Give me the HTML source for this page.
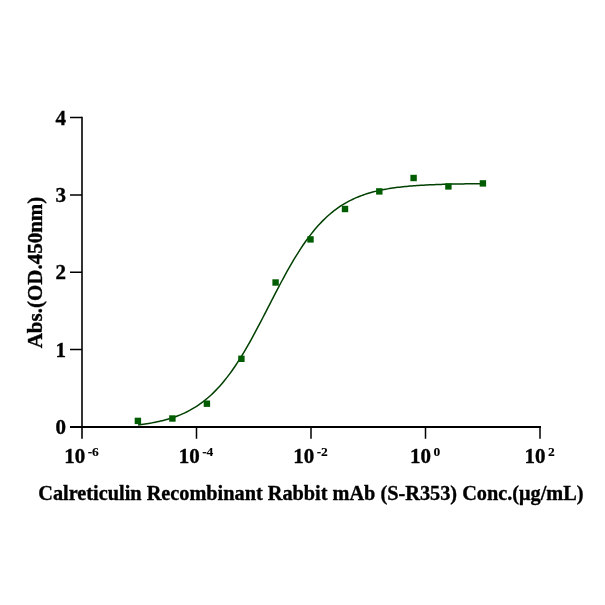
<!DOCTYPE html>
<html><head><meta charset="utf-8"><style>
html,body{margin:0;padding:0;background:#fff;}
svg{display:block;will-change:transform;}
text{font-family:"Liberation Serif",serif;font-weight:bold;fill:#000;stroke:#000;stroke-width:0.35px;}
</style></head><body>
<svg width="605" height="605" viewBox="0 0 605 605">
<rect width="605" height="605" fill="#fff"/>
<g stroke="#000" fill="none">
<path d="M82,116.75 V438.8" stroke-width="1.6"/>
<path d="M70,427 H541" stroke-width="2"/>
<path d="M70,117.5 H82 M70,194.9 H82 M70,272.2 H82 M70,349.6 H82" stroke-width="1.5"/>
<path d="M196.5,427 V438.8 M311,427 V438.8 M425.5,427 V438.8 M540,427 V438.8" stroke-width="1.5"/>
</g>
<path d="M138.07,424.91 L139.80,424.70 L141.53,424.47 L143.27,424.24 L145.00,423.99 L146.73,423.73 L148.46,423.46 L150.20,423.17 L151.93,422.87 L153.66,422.55 L155.39,422.21 L157.12,421.85 L158.86,421.47 L160.59,421.08 L162.32,420.66 L164.05,420.22 L165.78,419.76 L167.52,419.28 L169.25,418.77 L170.98,418.23 L172.71,417.66 L174.44,417.07 L176.18,416.44 L177.91,415.79 L179.64,415.10 L181.37,414.37 L183.10,413.61 L184.84,412.81 L186.57,411.98 L188.30,411.10 L190.03,410.18 L191.76,409.21 L193.50,408.20 L195.23,407.15 L196.96,406.04 L198.69,404.88 L200.42,403.67 L202.16,402.40 L203.89,401.08 L205.62,399.70 L207.35,398.27 L209.08,396.77 L210.82,395.21 L212.55,393.58 L214.28,391.89 L216.01,390.14 L217.75,388.31 L219.48,386.42 L221.21,384.46 L222.94,382.42 L224.67,380.32 L226.41,378.15 L228.14,375.90 L229.87,373.58 L231.60,371.19 L233.33,368.73 L235.07,366.20 L236.80,363.60 L238.53,360.93 L240.26,358.20 L241.99,355.40 L243.73,352.53 L245.46,349.61 L247.19,346.63 L248.92,343.59 L250.65,340.51 L252.39,337.37 L254.12,334.19 L255.85,330.97 L257.58,327.71 L259.31,324.43 L261.05,321.11 L262.78,317.77 L264.51,314.42 L266.24,311.05 L267.97,307.67 L269.71,304.29 L271.44,300.92 L273.17,297.55 L274.90,294.19 L276.64,290.85 L278.37,287.54 L280.10,284.25 L281.83,281.00 L283.56,277.78 L285.30,274.60 L287.03,271.46 L288.76,268.38 L290.49,265.34 L292.22,262.36 L293.96,259.44 L295.69,256.58 L297.42,253.78 L299.15,251.05 L300.88,248.39 L302.62,245.79 L304.35,243.26 L306.08,240.80 L307.81,238.41 L309.54,236.10 L311.28,233.85 L313.01,231.68 L314.74,229.58 L316.47,227.55 L318.20,225.59 L319.94,223.70 L321.67,221.87 L323.40,220.12 L325.13,218.43 L326.86,216.81 L328.60,215.25 L330.33,213.75 L332.06,212.32 L333.79,210.94 L335.53,209.62 L337.26,208.36 L338.99,207.15 L340.72,205.99 L342.45,204.89 L344.19,203.83 L345.92,202.82 L347.65,201.86 L349.38,200.94 L351.11,200.06 L352.85,199.22 L354.58,198.43 L356.31,197.67 L358.04,196.94 L359.77,196.26 L361.51,195.60 L363.24,194.98 L364.97,194.38 L366.70,193.82 L368.43,193.28 L370.17,192.77 L371.90,192.29 L373.63,191.83 L375.36,191.39 L377.09,190.97 L378.83,190.58 L380.56,190.20 L382.29,189.85 L384.02,189.51 L385.75,189.19 L387.49,188.88 L389.22,188.60 L390.95,188.32 L392.68,188.06 L394.42,187.82 L396.15,187.58 L397.88,187.36 L399.61,187.15 L401.34,186.95 L403.08,186.76 L404.81,186.58 L406.54,186.42 L408.27,186.25 L410.00,186.10 L411.74,185.96 L413.47,185.82 L415.20,185.69 L416.93,185.57 L418.66,185.45 L420.40,185.34 L422.13,185.24 L423.86,185.14 L425.59,185.05 L427.32,184.96 L429.06,184.87 L430.79,184.80 L432.52,184.72 L434.25,184.65 L435.98,184.58 L437.72,184.52 L439.45,184.46 L441.18,184.40 L442.91,184.35 L444.64,184.29 L446.38,184.25 L448.11,184.20 L449.84,184.16 L451.57,184.11 L453.31,184.08 L455.04,184.04 L456.77,184.00 L458.50,183.97 L460.23,183.94 L461.97,183.91 L463.70,183.88 L465.43,183.86 L467.16,183.83 L468.89,183.81 L470.63,183.78 L472.36,183.76 L474.09,183.74 L475.82,183.72 L477.55,183.70 L479.29,183.69 L481.02,183.67 L482.75,183.66" stroke="#004000" stroke-width="1.5" fill="none"/>
<g fill="#005c00"><rect x="134.70" y="417.70" width="6.4" height="6.4"/><rect x="169.20" y="415.30" width="6.4" height="6.4"/><rect x="203.70" y="400.50" width="6.4" height="6.4"/><rect x="238.20" y="355.60" width="6.4" height="6.4"/><rect x="272.40" y="279.30" width="6.4" height="6.4"/><rect x="307.30" y="236.20" width="6.4" height="6.4"/><rect x="341.80" y="205.80" width="6.4" height="6.4"/><rect x="376.10" y="188.20" width="6.4" height="6.4"/><rect x="410.40" y="174.80" width="6.4" height="6.4"/><rect x="445.20" y="183.20" width="6.4" height="6.4"/><rect x="479.70" y="180.20" width="6.4" height="6.4"/></g>
<g font-size="21"><text x="66" y="434.20" text-anchor="end">0</text><text x="66" y="356.80" text-anchor="end">1</text><text x="66" y="279.40" text-anchor="end">2</text><text x="66" y="202.00" text-anchor="end">3</text><text x="66" y="124.60" text-anchor="end">4</text><text x="81.50" y="462.8" text-anchor="middle">10<tspan dx="2.5" dy="-6.8" font-size="13.5" style="stroke-width:0.1px">-6</tspan></text><text x="196.00" y="462.8" text-anchor="middle">10<tspan dx="2.5" dy="-6.8" font-size="13.5" style="stroke-width:0.1px">-4</tspan></text><text x="310.50" y="462.8" text-anchor="middle">10<tspan dx="2.5" dy="-6.8" font-size="13.5" style="stroke-width:0.1px">-2</tspan></text><text x="425.00" y="462.8" text-anchor="middle">10<tspan dx="2.5" dy="-6.8" font-size="13.5" style="stroke-width:0.1px">0</tspan></text><text x="539.50" y="462.8" text-anchor="middle">10<tspan dx="2.5" dy="-6.8" font-size="13.5" style="stroke-width:0.1px">2</tspan></text></g>
<text x="310.9" y="499.5" text-anchor="middle" font-size="20.3">Calreticulin Recombinant Rabbit mAb (S-R353) Conc.(μg/mL)</text>
<text transform="translate(41.8,272.5) rotate(-90)" text-anchor="middle" font-size="21">Abs.(OD.450nm)</text>
</svg>
</body></html>
